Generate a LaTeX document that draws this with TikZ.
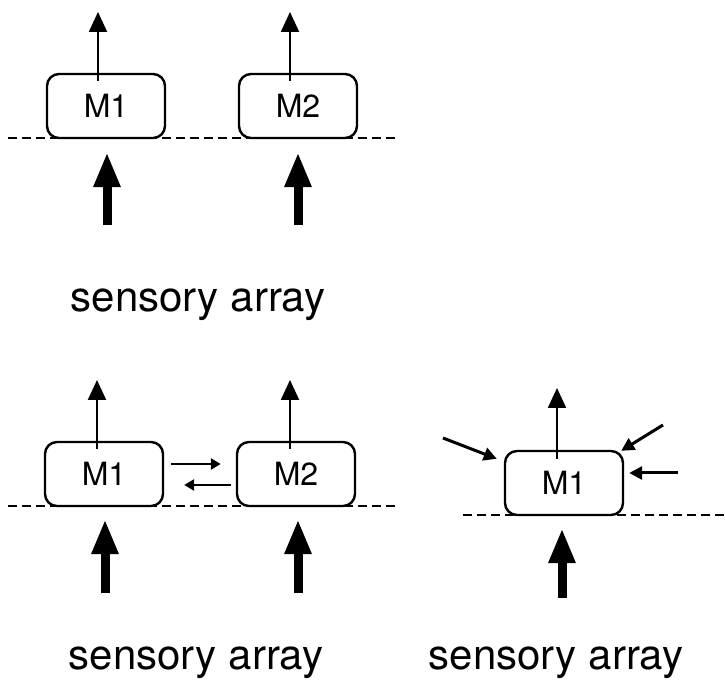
\documentclass[tikz,border=0pt]{standalone}
\usepackage{fontspec}
\setmainfont{TeX Gyre Heros}
\usetikzlibrary{arrows.meta,calc}

\begin{document}
\begin{tikzpicture}[x=0.5pt,y=0.5pt,
  mbox/.style={draw,line width=1.2pt,rounded corners=6pt,fill=white,
    minimum width=59pt,minimum height=32pt,inner sep=0pt,
    font=\fontsize{16}{18}\selectfont},
  layer/.style={line width=1pt,dash pattern=on 4.5pt off 2.5pt},
  thickarrow/.style={line width=4.5pt,-{Triangle[width=12.5pt,length=17.5pt]}},
  thinarrow/.style={line width=1.1pt,-{Triangle[width=9pt,length=10pt]}},
  linkarrow/.style={line width=1.3pt,-{Triangle[width=5.5pt,length=5pt]}},
  sidearrow/.style={line width=1.5pt,-{Triangle[width=6.5pt,length=6.5pt]}},
  caption/.style={anchor=base,font=\fontsize{21}{25}\selectfont}]
\useasboundingbox (0,0) rectangle (725,686);

% two separate modules
\draw[layer] (8,548) -- (395,548);
\node[mbox] (m1) at (106,580) {M1};
\node[mbox] (m2) at (298,580) {M2};
\coordinate (o1) at (98,674);
\coordinate (o2) at (290,674);
\coordinate (i1) at (107,461);
\coordinate (i2) at (298,461);
\draw[thinarrow] ($(m1.north)+(-8,-8)$) -- (o1);
\draw[thinarrow] ($(m2.north)+(-8,-8)$) -- (o2);
\draw[thickarrow] (i1) -- ($(m1.south)+(1,-13)$);
\draw[thickarrow] (i2) -- ($(m2.south)+(0,-13)$);
\node[caption] (c1) at (198,374) {sensory array};

% two coupled modules
\draw[layer] (8,180) -- (395,180);
\node[mbox] (n1) at (104,212) {M1};
\node[mbox] (n2) at (296,212) {M2};
\coordinate (p1) at (97,306);
\coordinate (p2) at (290,306);
\coordinate (j1) at (105,93);
\coordinate (j2) at (298,93);
\draw[thinarrow] ($(n1.north)+(-7,-8)$) -- (p1);
\draw[thinarrow] ($(n2.north)+(-6,-8)$) -- (p2);
\draw[thickarrow] (j1) -- ($(n1.south)+(1,-12)$);
\draw[thickarrow] (j2) -- ($(n2.south)+(2,-12)$);
\draw[linkarrow] ($(n1.east)+(7,10)$) -- ($(n2.west)+(-15,10)$);
\draw[linkarrow] ($(n2.west)+(-5,-11)$) -- ($(n1.east)+(20,-11)$);
\node[caption] (c2) at (196,16) {sensory array};

% one module with lateral inputs
\draw[layer] (463,171) -- (725,171);
\node[mbox] (k1) at (564,203) {M1};
\coordinate (q1) at (557,298);
\coordinate (l1) at (562,88);
\coordinate (s1) at (443,248);
\coordinate (s2) at (663,261);
\coordinate (s3) at (678,213);
\draw[thinarrow] ($(k1.north)+(-7,-9)$) -- (q1);
\draw[thickarrow] (l1) -- ($(k1.south)+(-2,-12)$);
\draw[sidearrow] (s1) -- ($(k1.north west)+(-7,-9)$);
\draw[sidearrow] (s2) -- ($(k1.north east)+(-3,-1)$);
\draw[sidearrow] (s3) -- ($(k1.east)+(5,10)$);
\node[caption] (c3) at (556,16) {sensory array};
\end{tikzpicture}
\end{document}
